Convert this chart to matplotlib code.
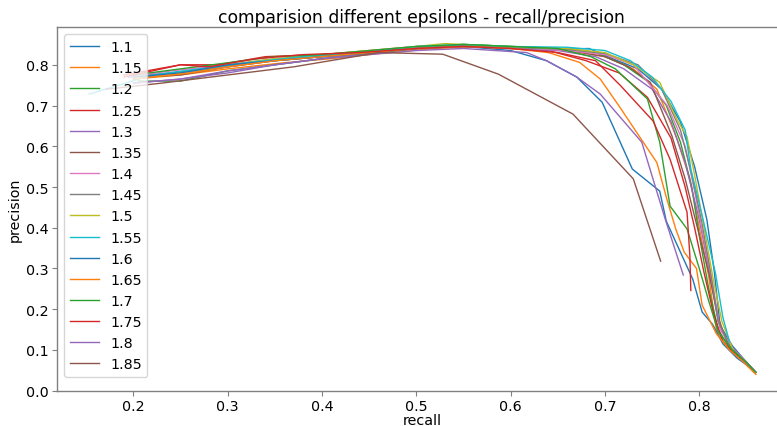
import matplotlib
matplotlib.use("Agg")
import matplotlib.pyplot as plt

epsilons = ["1.1", "1.15", "1.2", "1.25", "1.3", "1.35", "1.4", "1.45",
            "1.5", "1.55", "1.6", "1.65", "1.7", "1.75", "1.8", "1.85"]

recall_1_1 = [0.195, 0.24, 0.29, 0.34, 0.40, 0.46, 0.51, 0.56, 0.61, 0.65, 0.683, 0.709, 0.735, 0.76, 0.78, 0.795, 0.808, 0.816, 0.822, 0.835, 0.85, 0.86]
prec_1_1 = [0.77, 0.78, 0.795, 0.81, 0.82, 0.83, 0.842, 0.845, 0.84, 0.838, 0.84, 0.814, 0.79, 0.74, 0.66, 0.55, 0.42, 0.29, 0.16, 0.11, 0.07, 0.045]

recall_1_15 = [0.2, 0.25, 0.30, 0.36, 0.41, 0.47, 0.52, 0.57, 0.62, 0.66, 0.70, 0.73, 0.755, 0.776, 0.79, 0.80, 0.81, 0.818, 0.83, 0.845, 0.858]
prec_1_15 = [0.765, 0.775, 0.79, 0.805, 0.815, 0.83, 0.84, 0.845, 0.84, 0.835, 0.82, 0.79, 0.74, 0.62, 0.52, 0.40, 0.28, 0.15, 0.105, 0.075, 0.045]

recall_1_2 = [0.205, 0.25, 0.30, 0.35, 0.40, 0.45, 0.50, 0.55, 0.60, 0.65, 0.69, 0.72, 0.745, 0.765, 0.78, 0.792, 0.80, 0.81, 0.82, 0.832, 0.848, 0.86]
prec_1_2 = [0.76, 0.76, 0.785, 0.80, 0.815, 0.828, 0.84, 0.85, 0.845, 0.84, 0.83, 0.80, 0.76, 0.70, 0.61, 0.50, 0.38, 0.25, 0.15, 0.105, 0.07, 0.045]

recall_1_25 = [0.19, 0.25, 0.29, 0.34, 0.40, 0.45, 0.50, 0.55, 0.60, 0.64, 0.68, 0.715, 0.745, 0.77, 0.785, 0.795, 0.805, 0.815, 0.825, 0.84, 0.855]
prec_1_25 = [0.775, 0.80, 0.80, 0.82, 0.825, 0.83, 0.84, 0.848, 0.84, 0.835, 0.81, 0.78, 0.72, 0.62, 0.50, 0.40, 0.29, 0.19, 0.12, 0.085, 0.055]

recall_1_3 = [0.2, 0.25, 0.30, 0.35, 0.40, 0.45, 0.50, 0.55, 0.60, 0.65, 0.69, 0.72, 0.75, 0.77, 0.785, 0.80, 0.81, 0.82, 0.832, 0.848, 0.86]
prec_1_3 = [0.755, 0.765, 0.78, 0.80, 0.815, 0.83, 0.84, 0.845, 0.84, 0.835, 0.82, 0.79, 0.74, 0.66, 0.56, 0.42, 0.30, 0.17, 0.11, 0.075, 0.045]

recall_1_35 = [0.21, 0.25, 0.30, 0.35, 0.40, 0.45, 0.50, 0.55, 0.60, 0.65, 0.70, 0.725, 0.748, 0.771, 0.785, 0.798, 0.81, 0.82, 0.83, 0.845, 0.858]
prec_1_35 = [0.77, 0.775, 0.795, 0.81, 0.82, 0.83, 0.842, 0.848, 0.843, 0.84, 0.82, 0.795, 0.757, 0.625, 0.52, 0.40, 0.29, 0.18, 0.115, 0.08, 0.05]

recall_1_4 = [0.195, 0.24, 0.30, 0.35, 0.40, 0.45, 0.50, 0.55, 0.60, 0.66, 0.70, 0.73, 0.766, 0.785, 0.795, 0.805, 0.815, 0.822, 0.835, 0.85, 0.86]
prec_1_4 = [0.77, 0.785, 0.80, 0.815, 0.825, 0.835, 0.845, 0.848, 0.843, 0.835, 0.825, 0.80, 0.70, 0.60, 0.49, 0.37, 0.25, 0.15, 0.105, 0.07, 0.045]

recall_1_45 = [0.2, 0.25, 0.30, 0.35, 0.40, 0.45, 0.50, 0.55, 0.60, 0.66, 0.70, 0.735, 0.76, 0.78, 0.792, 0.803, 0.812, 0.82, 0.832, 0.847, 0.858]
prec_1_45 = [0.765, 0.78, 0.795, 0.81, 0.82, 0.832, 0.842, 0.848, 0.842, 0.838, 0.828, 0.80, 0.74, 0.64, 0.53, 0.41, 0.29, 0.17, 0.11, 0.075, 0.048]

recall_1_5 = [0.2, 0.25, 0.30, 0.35, 0.40, 0.45, 0.50, 0.53, 0.57, 0.62, 0.66, 0.70, 0.73, 0.758, 0.776, 0.787, 0.795, 0.805, 0.815, 0.824, 0.836]
prec_1_5 = [0.77, 0.78, 0.80, 0.815, 0.825, 0.835, 0.845, 0.852, 0.848, 0.843, 0.84, 0.83, 0.80, 0.757, 0.667, 0.623, 0.53, 0.40, 0.27, 0.17, 0.098]

recall_1_55 = [0.153, 0.22, 0.27, 0.32, 0.38, 0.44, 0.50, 0.55, 0.60, 0.66, 0.70, 0.727, 0.75, 0.77, 0.785, 0.791, 0.803, 0.817, 0.825, 0.832]
prec_1_55 = [0.728, 0.775, 0.79, 0.805, 0.82, 0.83, 0.845, 0.85, 0.845, 0.843, 0.835, 0.81, 0.77, 0.71, 0.64, 0.544, 0.43, 0.29, 0.18, 0.12]

recall_1_6 = [0.2, 0.25, 0.30, 0.35, 0.40, 0.45, 0.50, 0.55, 0.60, 0.638, 0.67, 0.697, 0.729, 0.758, 0.765, 0.793, 0.803, 0.814, 0.825, 0.84, 0.855]
prec_1_6 = [0.77, 0.78, 0.80, 0.81, 0.82, 0.83, 0.84, 0.845, 0.835, 0.81, 0.77, 0.708, 0.544, 0.49, 0.416, 0.274, 0.193, 0.163, 0.115, 0.08, 0.055]

recall_1_65 = [0.2, 0.26, 0.30, 0.35, 0.40, 0.45, 0.50, 0.55, 0.60, 0.64, 0.673, 0.695, 0.716, 0.755, 0.765, 0.775, 0.784, 0.797, 0.803, 0.818, 0.832, 0.847, 0.86]
prec_1_65 = [0.765, 0.78, 0.795, 0.81, 0.82, 0.83, 0.84, 0.845, 0.84, 0.83, 0.806, 0.765, 0.695, 0.56, 0.475, 0.397, 0.34, 0.30, 0.21, 0.14, 0.10, 0.07, 0.04]

recall_1_7 = [0.2, 0.25, 0.30, 0.35, 0.40, 0.45, 0.50, 0.55, 0.60, 0.65, 0.685, 0.711, 0.745, 0.758, 0.769, 0.787, 0.80, 0.81, 0.82, 0.835, 0.85, 0.86]
prec_1_7 = [0.775, 0.79, 0.805, 0.82, 0.825, 0.835, 0.845, 0.85, 0.845, 0.84, 0.82, 0.79, 0.716, 0.61, 0.453, 0.397, 0.30, 0.22, 0.145, 0.10, 0.07, 0.045]

recall_1_75 = [0.19, 0.25, 0.28, 0.33, 0.38, 0.44, 0.50, 0.55, 0.60, 0.65, 0.69, 0.716, 0.751, 0.769, 0.787, 0.79, 0.791]
prec_1_75 = [0.77, 0.80, 0.795, 0.815, 0.825, 0.83, 0.84, 0.845, 0.84, 0.83, 0.81, 0.75, 0.662, 0.568, 0.438, 0.33, 0.246]

recall_1_8 = [0.2, 0.25, 0.30, 0.35, 0.40, 0.45, 0.50, 0.55, 0.617, 0.638, 0.67, 0.695, 0.739, 0.764, 0.783]
prec_1_8 = [0.755, 0.765, 0.785, 0.80, 0.815, 0.825, 0.835, 0.84, 0.83, 0.81, 0.77, 0.728, 0.61, 0.42, 0.284]

recall_1_85 = [0.171, 0.23, 0.30, 0.37, 0.46, 0.528, 0.587, 0.666, 0.73, 0.759]
prec_1_85 = [0.74, 0.755, 0.775, 0.795, 0.83, 0.826, 0.777, 0.679, 0.52, 0.318]

recalls = [recall_1_1, recall_1_15, recall_1_2, recall_1_25, recall_1_3, recall_1_35,
           recall_1_4, recall_1_45, recall_1_5, recall_1_55, recall_1_6, recall_1_65,
           recall_1_7, recall_1_75, recall_1_8, recall_1_85]
precisions = [prec_1_1, prec_1_15, prec_1_2, prec_1_25, prec_1_3, prec_1_35,
              prec_1_4, prec_1_45, prec_1_5, prec_1_55, prec_1_6, prec_1_65,
              prec_1_7, prec_1_75, prec_1_8, prec_1_85]

tab10 = ["#1f77b4", "#ff7f0e", "#2ca02c", "#d62728", "#9467bd",
         "#8c564b", "#e377c2", "#7f7f7f", "#bcbd22", "#17becf"]

fig = plt.figure(figsize=(7.77, 4.27), dpi=100)
ax = fig.add_axes([0.0734, 0.0827, 0.9389, 0.851])

for i, (lab, r, p) in enumerate(zip(epsilons, recalls, precisions)):
    ax.plot(r, p, lw=1.0, color=tab10[i % 10], label=lab)

ax.set_xlim(0.119, 0.8925)
ax.set_ylim(0.0, 0.892)
ax.set_xticks([0.2, 0.3, 0.4, 0.5, 0.6, 0.7, 0.8])
ax.set_yticks([0.0, 0.1, 0.2, 0.3, 0.4, 0.5, 0.6, 0.7, 0.8])
ax.tick_params(labelsize=10.3, color="0.5", length=3.5, width=0.8, pad=2.5)
for s in ax.spines.values():
    s.set_color("0.5")
    s.set_linewidth(1.0)

ax.set_title("comparision different epsilons - recall/precision", fontsize=12.3, pad=4)
ax.set_xlabel("recall", fontsize=10.3, labelpad=0)
ax.set_ylabel("precision", fontsize=10.3, labelpad=3)
ax.legend(loc="upper left", fontsize=10.3)

fig.savefig("out.png", dpi=100)
